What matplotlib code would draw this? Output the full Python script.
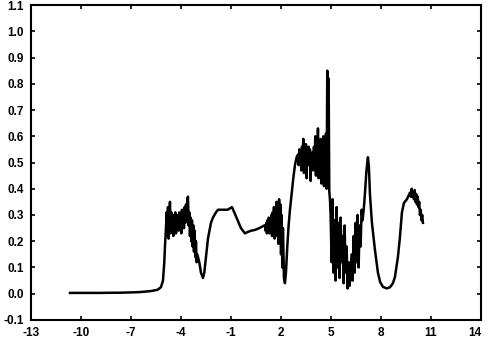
import numpy as np
import matplotlib.pyplot as plt

plt.rcParams['font.family'] = ['Liberation Sans', 'DejaVu Sans']
plt.rcParams['axes.unicode_minus'] = False

# smooth parts: (x, y)
base_x = [-10.66, -9.0, -7.5, -6.5, -5.8, -5.4, -5.2, -5.08, -5.0, -4.96, -4.9]
base_y = [0.003, 0.003, 0.004, 0.006, 0.010, 0.015, 0.025, 0.05, 0.12, 0.18, 0.25]

# noisy bands: start, stop and the sampled values
band1 = (-4.86, -3.02, [0.31, 0.22, 0.33, 0.21, 0.30, 0.35, 0.23, 0.31, 0.24, 0.29,
                        0.22, 0.30, 0.25, 0.31, 0.23, 0.29, 0.26, 0.30, 0.24, 0.31,
                        0.25, 0.30, 0.23, 0.32, 0.26, 0.31, 0.25, 0.33, 0.27, 0.34,
                        0.28, 0.36, 0.37, 0.26, 0.31, 0.22, 0.29, 0.20, 0.28, 0.18,
                        0.26, 0.16, 0.24, 0.14, 0.20, 0.12, 0.15])

plat_x = [-2.9, -2.8, -2.68, -2.6, -2.5, -2.38, -2.2, -2.08, -1.9, -1.78, -1.5, -1.2,
          -0.94, -0.8, -0.6, -0.4, -0.16, 0.0, 0.2, 0.44, 0.7, 1.0]
plat_y = [0.12, 0.08, 0.06, 0.08, 0.14, 0.21, 0.27, 0.29, 0.31, 0.32, 0.32, 0.32,
          0.33, 0.31, 0.28, 0.25, 0.23, 0.235, 0.24, 0.243, 0.25, 0.26]

band2 = (1.04, 2.12, [0.26, 0.24, 0.27, 0.23, 0.28, 0.24, 0.29, 0.23, 0.28, 0.25,
                      0.30, 0.22, 0.31, 0.24, 0.33, 0.21, 0.30, 0.25, 0.35, 0.22,
                      0.32, 0.19, 0.36, 0.20, 0.34, 0.15, 0.30, 0.10, 0.25])

rise_x = [2.18, 2.24, 2.30, 2.38, 2.46, 2.54, 2.64, 2.74, 2.84, 2.94]
rise_y = [0.06, 0.04, 0.08, 0.18, 0.26, 0.32, 0.38, 0.44, 0.49, 0.52]

band3 = (3.02, 4.94, [0.53, 0.49, 0.55, 0.50, 0.54, 0.47, 0.56, 0.52, 0.59, 0.46,
                      0.55, 0.50, 0.57, 0.44, 0.54, 0.49, 0.56, 0.51, 0.55, 0.43,
                      0.53, 0.48, 0.54, 0.47, 0.56, 0.50, 0.60, 0.45, 0.58, 0.49,
                      0.63, 0.44, 0.57, 0.48, 0.59, 0.42, 0.56, 0.47, 0.60, 0.41,
                      0.55, 0.45, 0.61, 0.40, 0.85, 0.50, 0.82, 0.39, 0.36])

band4 = (4.98, 6.9, [0.30, 0.12, 0.36, 0.08, 0.28, 0.05, 0.33, 0.10, 0.27, 0.06,
                     0.29, 0.12, 0.22, 0.04, 0.26, 0.08, 0.18, 0.02, 0.12, 0.03,
                     0.09, 0.15, 0.05, 0.22, 0.08, 0.27, 0.12, 0.30, 0.10, 0.26,
                     0.18, 0.32, 0.28])

tail_x = [6.98, 7.06, 7.12, 7.18, 7.22, 7.28, 7.34, 7.46, 7.64, 7.82, 7.95, 8.12,
          8.36, 8.55, 8.72, 8.84, 9.02, 9.14, 9.26, 9.38, 9.56, 9.74]
tail_y = [0.33, 0.40, 0.46, 0.50, 0.52, 0.48, 0.38, 0.27, 0.167, 0.08, 0.045, 0.026,
          0.02, 0.025, 0.04, 0.064, 0.14, 0.216, 0.31, 0.346, 0.36, 0.385]

band5 = (9.8, 10.52, [0.37, 0.40, 0.37, 0.39, 0.36, 0.395, 0.35, 0.38, 0.34, 0.37,
                      0.33, 0.35, 0.30, 0.32, 0.28, 0.30, 0.27])


def band(seg):
    lo, hi, ys = seg
    return list(np.linspace(lo, hi, len(ys))), ys


xs, ys = [], []
for part in [(base_x, base_y), band(band1), (plat_x, plat_y), band(band2),
             (rise_x, rise_y), band(band3), band(band4), (tail_x, tail_y), band(band5)]:
    xs += list(part[0])
    ys += list(part[1])

x_ticks = [-13, -10, -7, -4, -1, 2, 5, 8, 11, 14]
y_ticks = [-0.1, 0.0, 0.1, 0.2, 0.3, 0.4, 0.5, 0.6, 0.7, 0.8, 0.9, 1.0, 1.1]

fig = plt.figure(figsize=(4.88, 3.40), dpi=100)
ax = fig.add_axes([0.0635, 0.059, 0.922, 0.926])
ax.plot(xs, ys, color='black', lw=1.8)

ax.set_xlim(-13, 14)
ax.set_ylim(-0.1, 1.1)
ax.set_xticks(x_ticks)
ax.set_yticks(y_ticks)
ax.set_yticklabels(['%.1f' % v for v in y_ticks])
ax.tick_params(direction='in', top=True, right=True, length=3, width=1.2,
               labelsize=8.5, pad=5)
for lab in ax.get_xticklabels() + ax.get_yticklabels():
    lab.set_fontweight('bold')
ax.get_xticklabels()[-1].set_horizontalalignment('right')
for s in ax.spines.values():
    s.set_linewidth(1.5)

fig.savefig('out.png', dpi=100)
